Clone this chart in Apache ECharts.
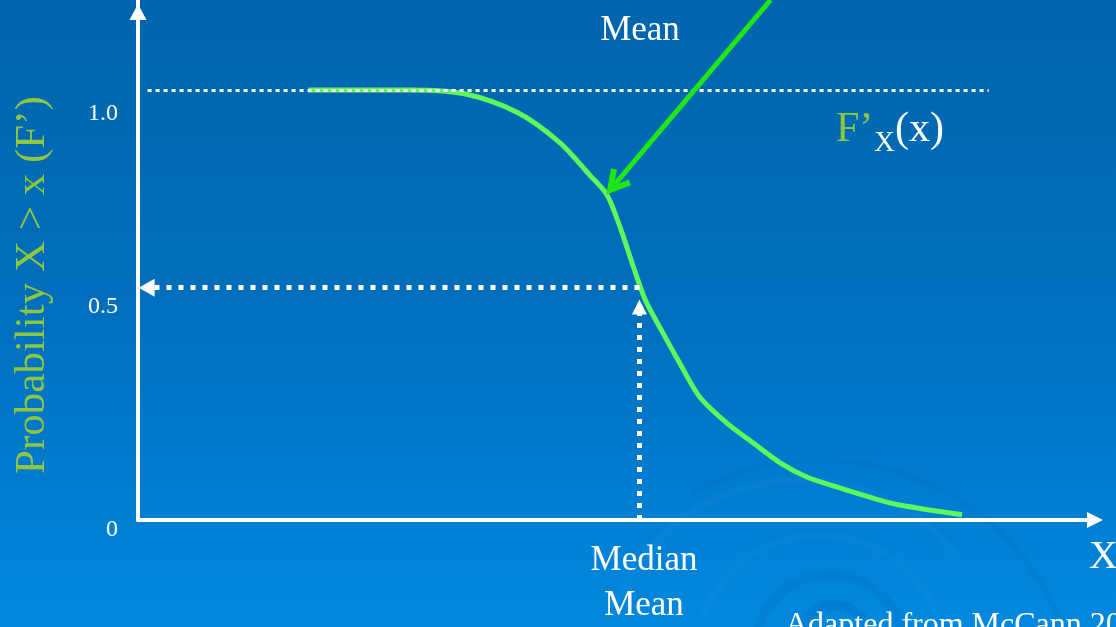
<!DOCTYPE html>
<html>
<head>
<meta charset="utf-8">
<script src="https://cdn.jsdelivr.net/npm/echarts@6/dist/echarts.min.js"></script>
<style>
html, body { margin: 0; padding: 0; }
#chart { width: 1116px; height: 627px; }
</style>
</head>
<body>
<div id="chart"></div>
<script>
// survival curve F'X(x)
const curveX = [17.8, 23.2, 28.5, 34.1, 39.7, 44.1, 47.2, 49.0, 50.4, 51.7, 53.0, 54.5, 56.6, 58.7, 61.5, 64.3, 67.1, 69.9, 73.4, 77.4, 79.6, 86.1];
const curveY = [1.0, 1.0, 1.0, 0.991, 0.947, 0.877, 0.802, 0.756, 0.679, 0.593, 0.512, 0.449, 0.365, 0.286, 0.226, 0.179, 0.133, 0.100, 0.074, 0.047, 0.035, 0.012];

const yTickValues = [0, 0.5, 1.0];
const yTickLabels = ['0', '0.5', '1.0'];

const medianX = 52.4;
const medianP = 0.54;
const topLineEnd = 88.9;
// "Mean" pointer arrow
const meanArrowFrom = [66.1, 1.209];
const meanArrowTo = [49.8, 0.780];

const serif = 'Liberation Serif';
const curveColor = '#5cf85c';
const arrowGreen = '#1fe615';
const labelGreen = '#8dc63f';

const chart = echarts.init(document.getElementById('chart'));

const option = {
  animation: false,
  backgroundColor: {
    type: 'linear', x: 0, y: 0, x2: 0, y2: 1,
    colorStops: [
      { offset: 0, color: '#0065ad' },
      { offset: 0.5, color: '#006fbd' },
      { offset: 1, color: '#0088df' }
    ]
  },
  grid: { left: 138, right: 21, top: 0, bottom: 107 },
  xAxis: {
    type: 'value',
    min: 0,
    max: 100,
    axisLine: { lineStyle: { color: '#fff', width: 4 }, symbol: ['none', 'triangle'], symbolSize: [16, 16] },
    axisTick: { show: false },
    axisLabel: { show: false },
    splitLine: { show: false }
  },
  yAxis: {
    type: 'value',
    min: 0,
    max: 1.209,
    interval: 0.5,
    name: 'Probability X > x (F’)',
    nameLocation: 'middle',
    nameGap: 84,
    nameTextStyle: { color: labelGreen, fontSize: 43, fontFamily: serif, padding: [0, 50, 0, 0] },
    axisLine: {
      show: true,
      lineStyle: { color: '#fff', width: 4 },
      symbol: ['none', 'triangle'],
      symbolSize: [17, 16],
      symbolOffset: [0, -12]
    },
    axisTick: { show: false },
    splitLine: { show: false },
    axisLabel: {
      showMaxLabel: false,
      margin: 20,
      formatter: function (v) {
        const i = yTickValues.indexOf(v);
        if (i < 0) return '';
        return '{t' + i + '|' + yTickLabels[i] + '}';
      },
      rich: {
        t0: { color: '#fff', fontSize: 24, fontFamily: serif, padding: [20, 0, 0, 0] },
        t1: { color: '#fff', fontSize: 24, fontFamily: serif, padding: [4, 0, 0, 0] },
        t2: { color: '#fff', fontSize: 24, fontFamily: serif, padding: [48, 0, 0, 0] }
      }
    }
  },
  graphic: [
    // faint swirl in the background
    { type: 'arc', z: -10, silent: true, shape: { cx: 835, cy: 640, r: 35, startAngle: 3.3, endAngle: 6.1 }, style: { stroke: 'rgba(0,50,120,0.09)', lineWidth: 10, fill: null } },
    { type: 'arc', z: -10, silent: true, shape: { cx: 830, cy: 650, r: 75, startAngle: 3.2, endAngle: 6.2 }, style: { stroke: 'rgba(0,50,120,0.07)', lineWidth: 9, fill: null } },
    { type: 'arc', z: -10, silent: true, shape: { cx: 820, cy: 660, r: 125, startAngle: 3.5, endAngle: 5.9 }, style: { stroke: 'rgba(255,255,255,0.025)', lineWidth: 7, fill: null } },
    { type: 'arc', z: -10, silent: true, shape: { cx: 800, cy: 680, r: 200, startAngle: 3.6, endAngle: 5.6 }, style: { stroke: 'rgba(255,255,255,0.022)', lineWidth: 7, fill: null } },
    { type: 'arc', z: -10, silent: true, shape: { cx: 820, cy: 720, r: 260, startAngle: 4.2, endAngle: 5.9 }, style: { stroke: 'rgba(0,50,120,0.05)', lineWidth: 6, fill: null } },
    { type: 'text', x: 640, y: 31, style: { text: 'Mean', fill: '#fff', font: '35px "Liberation Serif"', align: 'center', verticalAlign: 'middle' } },
    { type: 'text', x: 836, y: 130, style: { text: 'F’', fill: labelGreen, font: '42px "Liberation Serif"', align: 'left', verticalAlign: 'middle' } },
    { type: 'text', x: 874, y: 143, style: { text: 'X', fill: '#fff', font: '29px "Liberation Serif"', align: 'left', verticalAlign: 'middle' } },
    { type: 'text', x: 895, y: 130, style: { text: '(x)', fill: '#fff', font: '42px "Liberation Serif"', align: 'left', verticalAlign: 'middle' } },
    { type: 'text', x: 644, y: 561, style: { text: 'Median', fill: '#fff', font: '35px "Liberation Serif"', align: 'center', verticalAlign: 'middle' } },
    { type: 'text', x: 644, y: 606, style: { text: 'Mean', fill: '#fff', font: '35px "Liberation Serif"', align: 'center', verticalAlign: 'middle' } },
    { type: 'text', x: 1089, y: 557, style: { text: 'X', fill: '#fff', font: '40px "Liberation Serif"', align: 'left', verticalAlign: 'middle' } },
    { type: 'text', x: 785, y: 610, style: { text: 'Adapted from McCann 2002', fill: '#fff', font: '32px "Liberation Serif"', align: 'left', verticalAlign: 'top' } }
  ],
  series: [
    {
      type: 'line',
      data: curveX.map((x, i) => [x, curveY[i]]),
      smooth: 0.3,
      symbol: 'none',
      clip: false,
      lineStyle: { color: curveColor, width: 5 },
      z: 3,
      markLine: {
        silent: true,
        label: { show: false },
        emphasis: { disabled: true },
        data: [
          [
            { coord: [1.0, 1.0], symbol: 'none', lineStyle: { color: '#fff', width: 3, type: [4, 4] } },
            { coord: [topLineEnd, 1.0], symbol: 'none' }
          ],
          [
            { coord: [medianX, medianP], symbol: 'none', lineStyle: { color: '#fff', width: 5, type: [5, 7] } },
            { coord: [0.9, medianP], symbol: 'triangle', symbolSize: [18, 16] }
          ],
          [
            { coord: [medianX, 0.0], symbol: 'none', lineStyle: { color: '#fff', width: 5, type: [5, 7] } },
            { coord: [medianX, medianP - 0.045], symbol: 'triangle', symbolSize: [15, 15] }
          ],
          [
            { coord: meanArrowFrom, symbol: 'none', lineStyle: { color: arrowGreen, width: 5, type: 'solid' } },
            { coord: meanArrowTo, symbol: 'path://M10,0 L20,18 L16,20.5 L10,9.5 L4,20.5 L0,18 Z', symbolSize: [26, 26] }
          ]
        ]
      }
    }
  ]
};

chart.setOption(option);
</script>
</body>
</html>
